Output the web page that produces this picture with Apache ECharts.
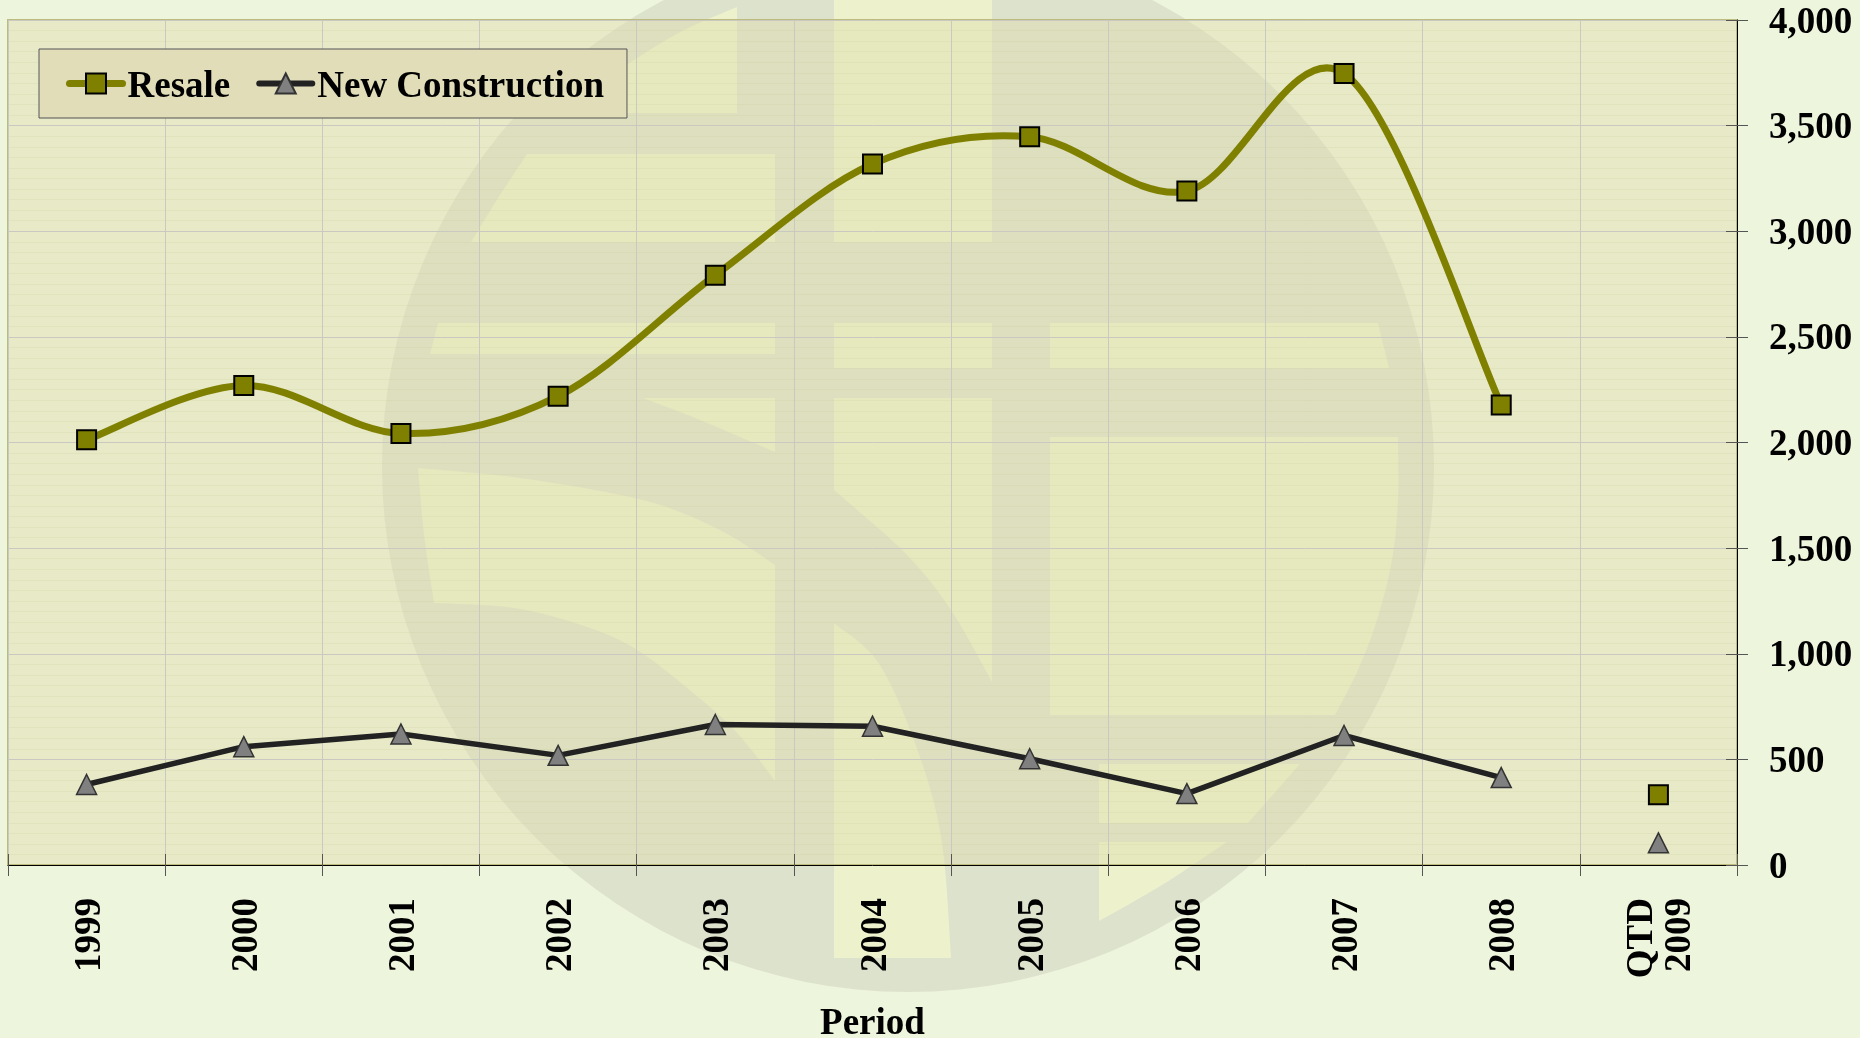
<!DOCTYPE html>
<html>
<head>
<meta charset="utf-8">
<title>Resale and New Construction</title>
<style>
  html, body { margin: 0; padding: 0; background: #eef5dd; }
  #chart { width: 1860px; height: 1038px; }
</style>
<script src="https://cdn.jsdelivr.net/npm/echarts@6/dist/echarts.min.js"></script>
</head>
<body>
<div id="chart"></div>
<script>
// 数据
const categories = ['1999', '2000', '2001', '2002', '2003', '2004', '2005', '2006', '2007', '2008', 'QTD\n2009']
const resaleValues = [2013, 2270, 2043, 2219, 2792, 3318, 3447, 3190, 3747, 2178]
const newConstructionValues = [381, 560, 620, 519, 665, 657, 503, 338, 613, 414]
const qtdResale = [[10, 332]]
const qtdNewConstruction = [[10, 105]]
const yMax = 4000
const yStep = 500

const FONT = '"Liberation Serif", "Times New Roman", serif'
const OLIVE = '#808000'
const DARK = '#222222'
// 曲线张力, 接近 Excel 的平滑线
const TENSION = 1 / 6

// 水印边缘的弧线: 把几个控制点加密成折线
function curveEdge (pts) {
  const out = []
  for (let i = 0; i < pts.length - 1; i++) {
    const a = pts[Math.max(i - 1, 0)]
    const b = pts[i]
    const c = pts[i + 1]
    const d = pts[Math.min(i + 2, pts.length - 1)]
    for (let s = 0; s < 8; s++) {
      const t = s / 8
      const q = (k) => 0.5 * (2 * b[k] + (c[k] - a[k]) * t + (2 * a[k] - 5 * b[k] + 4 * c[k] - d[k]) * t * t + (3 * b[k] - a[k] - 3 * c[k] + d[k]) * t * t * t)
      out.push([q(0), q(1)])
    }
  }
  out.push(pts[pts.length - 1])
  return out
}

// 背景水印的镂空区域 (装饰, 不是数据)
const logoCutouts = [
  [[737, 7], [737, 113], ...curveEdge([[568, 113], [600, 85], [634, 60], [684, 30], [737, 7]])],
  [[527, 154], [775, 154], [775, 242], ...curveEdge([[471, 242], [498, 198], [527, 154]])],
  [[438, 323], [775, 323], [775, 354], [430, 354]],
  [[775, 398], [775, 452], ...curveEdge([[775, 452], [700, 420], [643, 398]])],
  [
    ...curveEdge([[418, 468], [520, 478], [643, 500], [720, 530], [775, 565]]),
    ...curveEdge([[775, 781], [737, 733], [692, 692], [634, 648], [581, 625], [514, 608], [434, 603]]),
    ...curveEdge([[434, 603], [424, 535], [418, 468]])
  ],
  [...curveEdge([[834, 623], [880, 665], [920, 757], [942, 843], [951, 958]]), [834, 958]],
  [[834, 0], [992, 0], [992, 242], [834, 242]],
  [[834, 323], [992, 323], [992, 368], [834, 368]],
  [[834, 398], [992, 398], ...curveEdge([[992, 682], [951, 610], [907, 555], [849, 503], [834, 490]])],
  [[1050, 323], [1378, 323], [1389, 368], [1050, 368]],
  [[1050, 437], ...curveEdge([[1398, 437], [1398, 500], [1392, 560], [1377, 620], [1358, 670], [1335, 715]]), [1050, 715]],
  [[1099, 764], [1300, 764], [1248, 823], [1099, 823]],
  [[1099, 842], ...curveEdge([[1227, 842], [1162, 885], [1099, 921]])]
]

const graphicElements = [
  { type: 'circle', z: -3, silent: true, shape: { cx: 908, cy: 466, r: 526 }, style: { fill: '#dde2cc' } }
]
logoCutouts.forEach((points) => {
  graphicElements.push({ type: 'polygon', z: -2, silent: true, shape: { points: points }, style: { fill: '#edf2cd' } })
})
// 绘图区的半透明底色
graphicElements.push({ type: 'rect', z: -1, silent: true, shape: { x: 8, y: 20, width: 1729, height: 845 }, style: { fill: 'rgba(222,220,172,0.45)' } })

// 平滑曲线: echarts 自带的 smooth 会把峰值压在点上, 这里按 Catmull-Rom 画每一段
function renderSmoothSegment (params, api) {
  const i = params.dataIndex
  if (i >= resaleValues.length - 1) {
    return null
  }
  const pt = (k) => {
    const idx = Math.max(0, Math.min(resaleValues.length - 1, k))
    return api.coord([idx, resaleValues[idx]])
  }
  const p0 = pt(i - 1)
  const p1 = pt(i)
  const p2 = pt(i + 1)
  const p3 = pt(i + 2)
  return {
    type: 'bezierCurve',
    silent: true,
    shape: {
      x1: p1[0],
      y1: p1[1],
      x2: p2[0],
      y2: p2[1],
      cpx1: p1[0] + (p2[0] - p0[0]) * TENSION,
      cpy1: p1[1] + (p2[1] - p0[1]) * TENSION,
      cpx2: p2[0] - (p3[0] - p1[0]) * TENSION,
      cpy2: p2[1] - (p3[1] - p1[1]) * TENSION
    },
    style: { stroke: OLIVE, lineWidth: 7, fill: null, lineCap: 'round' }
  }
}

// 文字比参考图偏高, 用 rich 的 padding 往下挪
const boldText = (pad, lineHeight) => ({
  fontFamily: FONT,
  fontWeight: 'bold',
  fontSize: 37,
  color: '#000',
  lineHeight: lineHeight,
  padding: [pad, 0, 0, 0]
})

const squareStyle = { color: OLIVE, borderColor: '#000', borderWidth: 2, opacity: 1 }
const triangleStyle = { color: '#808080', borderColor: '#333', borderWidth: 1.5, opacity: 1 }

const option = {
  animation: false,
  backgroundColor: '#eef5dd',
  textStyle: { fontFamily: FONT },
  graphic: { elements: graphicElements },
  grid: {
    left: 8,
    top: 20,
    width: 1729,
    height: 845,
    outerBoundsMode: 'none',
    show: true,
    borderColor: '#bdbb7e',
    borderWidth: 2,
    backgroundColor: 'transparent'
  },
  legend: {
    left: 39,
    top: 49,
    padding: [12, 23, 12, 27],
    backgroundColor: '#e0ddb8',
    borderColor: '#555',
    borderWidth: 1,
    borderRadius: 0,
    itemWidth: 53,
    itemHeight: 25,
    itemGap: 26,
    selectedMode: false,
    formatter: (name) => `{t|${name}}`,
    textStyle: { rich: { t: boldText(8, 38) } },
    data: [
      { name: 'Resale', lineStyle: { color: OLIVE, width: 7, opacity: 1, cap: 'round' } },
      { name: 'New Construction', lineStyle: { color: DARK, width: 6, opacity: 1, cap: 'round' } }
    ]
  },
  xAxis: [
    {
      type: 'category',
      data: categories,
      position: 'bottom',
      name: 'Period',
      nameLocation: 'middle',
      nameGap: 141,
      nameTextStyle: { fontFamily: FONT, fontWeight: 'bold', fontSize: 37, color: '#000' },
      axisLine: { show: true, lineStyle: { color: '#000', width: 1 } },
      axisTick: { show: true, length: 11, alignWithLabel: false, lineStyle: { color: '#555' } },
      axisLabel: {
        interval: 0,
        rotate: 90,
        margin: 33,
        formatter: (v) => v.split('\n').map((s) => `{a|${s}}`).join('\n'),
        rich: { a: boldText(7, 38) }
      },
      splitLine: { show: true, interval: 0, lineStyle: { color: '#c9c9c2', width: 1 } }
    },
    {
      // 第二根轴只负责向内的刻度
      type: 'category',
      data: categories,
      position: 'bottom',
      axisLine: { show: false },
      axisTick: { show: true, inside: true, length: 11, lineStyle: { color: '#555' } },
      axisLabel: { show: false },
      splitLine: { show: false }
    }
  ],
  yAxis: [
    {
      type: 'value',
      position: 'right',
      min: 0,
      max: yMax,
      interval: yStep,
      axisLine: { show: true, lineStyle: { color: '#000', width: 1 } },
      axisTick: { show: true, length: 11, lineStyle: { color: '#555' } },
      axisLabel: {
        margin: 32,
        formatter: (v) => `{a|${v.toLocaleString('en-US')}}`,
        rich: { a: boldText(6, 38) }
      },
      splitLine: { show: true, lineStyle: { color: '#c9c9c2', width: 1 } },
      minorTick: { show: false, splitNumber: 10 },
      minorSplitLine: { show: true, lineStyle: { color: 'rgba(205,205,150,0.2)', width: 1 } }
    },
    {
      type: 'value',
      position: 'right',
      min: 0,
      max: yMax,
      interval: yStep,
      axisLine: { show: false },
      axisTick: { show: true, inside: true, length: 11, lineStyle: { color: '#555' } },
      axisLabel: { show: false },
      splitLine: { show: false }
    }
  ],
  series: [
    {
      type: 'custom',
      name: 'Resale curve',
      coordinateSystem: 'cartesian2d',
      renderItem: renderSmoothSegment,
      data: resaleValues.map((v, i) => [i, v]),
      z: 2,
      silent: true
    },
    {
      type: 'line',
      name: 'Resale',
      data: resaleValues,
      symbol: 'rect',
      symbolSize: 19,
      showAllSymbol: true,
      itemStyle: squareStyle,
      lineStyle: { color: OLIVE, width: 7, opacity: 0 },
      z: 3
    },
    {
      type: 'line',
      name: 'New Construction',
      data: newConstructionValues,
      symbol: 'triangle',
      symbolSize: 20,
      showAllSymbol: true,
      itemStyle: triangleStyle,
      lineStyle: { color: DARK, width: 5.5 },
      z: 3
    },
    {
      type: 'scatter',
      name: 'Resale QTD',
      data: qtdResale,
      symbol: 'rect',
      symbolSize: 19,
      itemStyle: squareStyle,
      z: 3
    },
    {
      type: 'scatter',
      name: 'New Construction QTD',
      data: qtdNewConstruction,
      symbol: 'triangle',
      symbolSize: 20,
      itemStyle: triangleStyle,
      z: 3
    }
  ]
}

const chartInstance = echarts.init(document.getElementById('chart'))
chartInstance.setOption(option)
</script>
</body>
</html>
